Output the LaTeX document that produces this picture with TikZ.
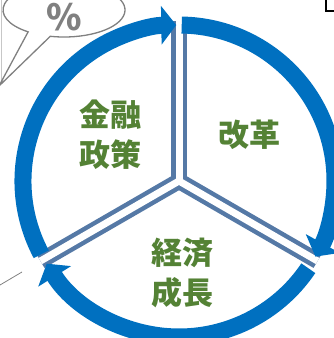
\documentclass[tikz,border=0pt]{standalone}
\usepackage{fontspec}
\usepackage{tikz}
\usetikzlibrary{arrows.meta}
\newfontfamily\jpFont{Noto Sans CJK JP}
\definecolor{cycleBlue}{RGB}{0,112,192}
\definecolor{dividerColor}{RGB}{85,121,166}
\definecolor{labelGreen}{RGB}{84,130,53}
\definecolor{bubbleGray}{RGB}{128,128,128}
\tikzstyle{diagram} = [x = 1pt, y = 1pt]
\tikzstyle{cycleArrow} = [color=cycleBlue, line width=17pt, -{Triangle[width=38pt, length=15pt]}]
\tikzstyle{dividerOuter} = [color=dividerColor, line width=16pt]
\tikzstyle{dividerInner} = [color=white, line width=7pt]
\tikzstyle{cycleLabel} = [font=\jpFont\bfseries\fontsize{31}{40}\selectfont, text=labelGreen, align=center]
\tikzstyle{bubbleStyle} = [draw=bubbleGray, fill=white, line width=1.3pt, line join=miter]
\tikzstyle{bubbleText} = [font=\jpFont\bfseries\fontsize{36}{40}\selectfont, text=bubbleGray]
\newcommand{\cycleRadius}{156}
\newcommand{\cycleArc}[2]{\draw [cycleArrow] ([shift={(#1:\cycleRadius)}]center) arc [start angle=#1, end angle=#2, radius=\cycleRadius];}

\begin{document}
\begin{tikzpicture}[diagram]
  \useasboundingbox (0,0) rectangle (334,338);
  \clip (0,0) rectangle (334,338);
  \coordinate (center) at (179,157);

  % speech bubble
  \draw [color=black!22, line width=0.8pt] (1,338) -- (1,254);
  \coordinate (bubbleCenter) at (64,328);
  \coordinate (bubbleTip) at (-1,252);
  \draw [bubbleStyle] ([shift={(257:61 and 27)}]bubbleCenter) arc [start angle=257, end angle=594, x radius=61, y radius=27] -- (bubbleTip) -- cycle;
  \node [bubbleText] (percentSign) at (64,321) {\%};
  \draw [bubbleGray, line width=0.8pt] (0,53) -- (22,66);
  \draw [black, line width=1.2pt] (326,327) rectangle (345,350);

  % dividers
  \foreach \angle in {90,210,330} {
    \draw [dividerOuter] (center) -- ([shift={(\angle:160)}]center);
  }
  \foreach \angle in {90,210,330} {
    \draw [dividerInner] (center) -- ([shift={(\angle:160)}]center);
  }

  % cycle
  \cycleArc{208}{91}
  \cycleArc{89}{-29}
  \cycleArc{-34}{-148}

  \node [cycleLabel] (monetaryPolicy) at (110,203) {金融\\政策};
  \node [cycleLabel] (reform) at (249,203) {改革};
  \node [cycleLabel] (economicGrowth) at (182,65) {経済\\成長};
\end{tikzpicture}
\end{document}
